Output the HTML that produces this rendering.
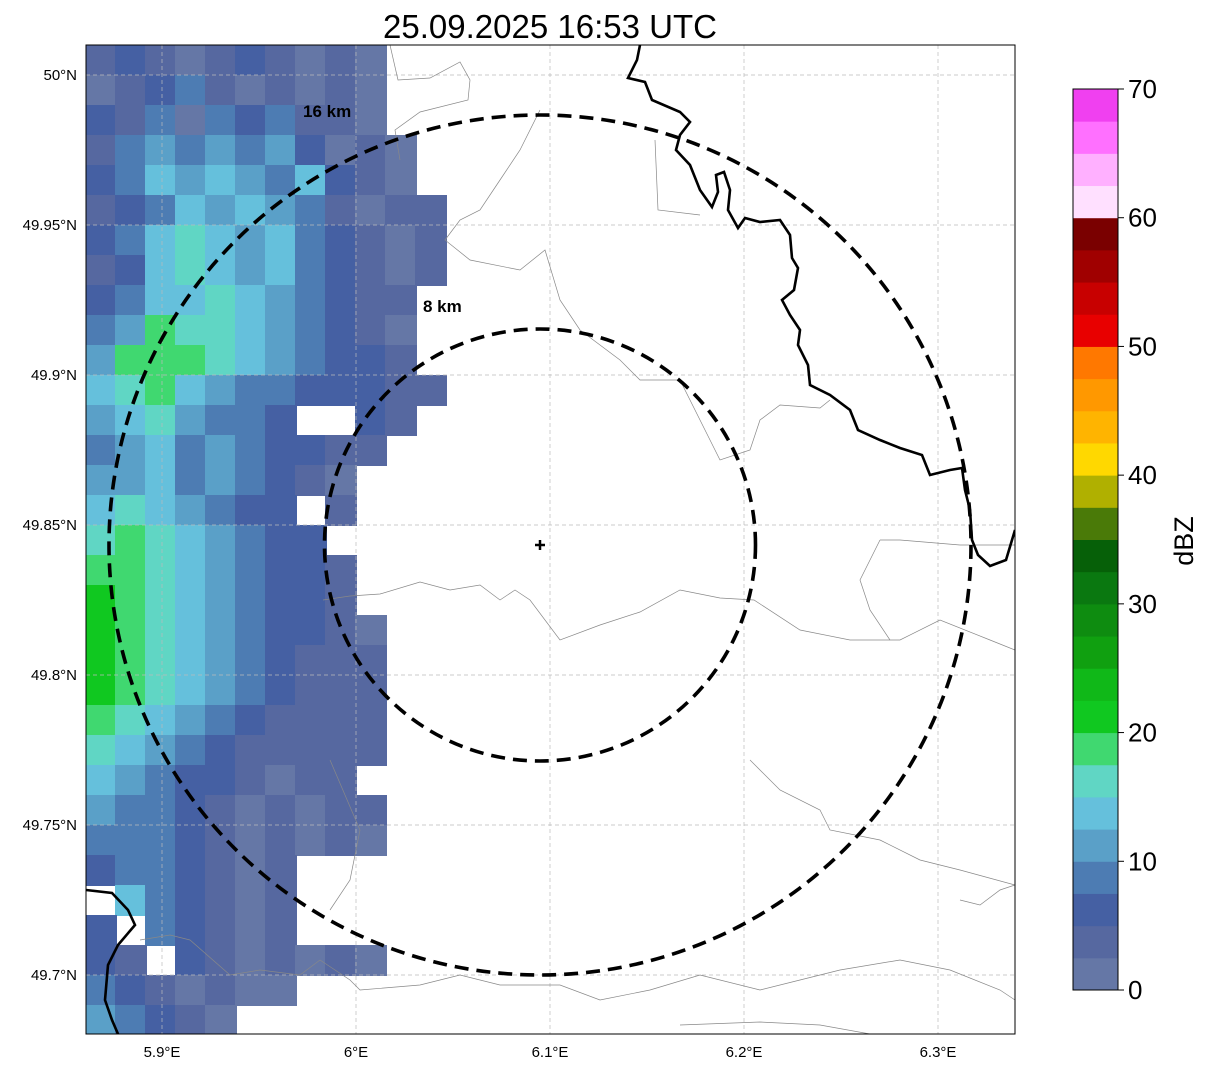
<!DOCTYPE html>
<html><head><meta charset="utf-8"><style>
body{margin:0;background:#fff;width:1207px;height:1069px;overflow:hidden;font-family:"Liberation Sans","DejaVu Sans",sans-serif}
svg{position:absolute;left:0;top:0}
</style></head><body>
<svg id="chart" width="1207" height="1069">
<defs><clipPath id="plotclip"><rect x="86" y="45" width="929" height="989"/></clipPath></defs>
<text x="550" y="38" font-size="33" text-anchor="middle" fill="#000">25.09.2025 16:53 UTC</text>
<g id="plot" clip-path="url(#plotclip)">
<g id="cells"></g>
<g id="grid"></g>
<g fill="none" stroke="#888" stroke-width="0.7">
<polyline points="390,45 398,80 430,78 460,62 470,80 468,100 420,112 395,130 400,160"/>
<polyline points="323,600 350,596 380,594 420,582 450,590 480,585 500,600 515,590 530,600 560,640 600,625 640,612 680,590 720,598 754,600 800,630 850,640 900,640 940,620 990,640 1015,650"/>
<polyline points="540,110 520,150 500,180 480,210 460,220 445,240 470,260 520,270 545,250 560,300 580,330 620,360 640,380 680,380 700,420 720,460 750,450 760,420 780,405 820,408 830,400"/>
<polyline points="655,140 658,210 700,215"/>
<polyline points="880,540 900,540 960,545 1015,545"/>
<polyline points="880,540 860,580 870,610 890,640"/>
<polyline points="750,760 780,790 820,810 830,830 880,840 920,860 960,870 1015,885"/>
<polyline points="960,900 980,905 1000,890 1015,885"/>
<polyline points="140,940 170,935 190,940 230,975 260,970 300,975 320,960 350,980 360,990 420,985 460,975 500,985 560,985 600,1000 650,990 700,975 760,990 800,980 840,970 900,960 950,970 1000,990 1015,1000"/>
<polyline points="330,760 360,830 350,880 330,910"/>
<polyline points="680,1025 760,1022 820,1025 870,1034"/>
</g>
<g fill="none" stroke="#000" stroke-width="2.6">
<polyline points="640,45 637,60 628,78 645,82 652,100 680,112 690,122 680,135 676,150 690,165 700,190 712,207 718,192 716,175 724,172 730,190 728,210 738,228 745,218 760,222 780,220 790,235 792,258 798,268 794,290 782,300 790,315 800,330 798,345 808,365 810,385 830,395 850,410 858,430 880,440 900,448 922,455 930,475 950,470 962,468 965,490 970,510 972,540 978,555 990,566 1006,560 1012,540 1015,530"/>
<polyline points="86,890 112,893 128,910 135,925 118,945 108,965 105,1000 112,1020 118,1034"/>
</g>
<g fill="none" stroke="#000" stroke-width="3.6" stroke-dasharray="14,8">
<ellipse cx="540" cy="545" rx="431" ry="430"/>
<ellipse cx="540" cy="545" rx="215.5" ry="216"/>
</g>
<text x="303" y="117" font-size="17" font-weight="bold">16 km</text>
<text x="423" y="312" font-size="17" font-weight="bold">8 km</text>
<g stroke="#000" stroke-width="2.5">
<line x1="535" y1="545" x2="545" y2="545"/><line x1="540" y1="540" x2="540" y2="550"/></g>
</g>
<rect x="86" y="45" width="929" height="989" fill="none" stroke="#000" stroke-width="1"/>
<g id="axes" font-size="15" fill="#000"></g>
<g id="cbar"></g>
<text transform="translate(1193,541) rotate(-90)" font-size="27" text-anchor="middle">dBZ</text>
</svg>
<script>
const lonTicks=[5.9,6.0,6.1,6.2,6.3];
const lonLabels=["5.9°E","6°E","6.1°E","6.2°E","6.3°E"];
const latTicks=[50.0,49.95,49.9,49.85,49.8,49.75,49.7];
const latLabels=["50°N","49.95°N","49.9°N","49.85°N","49.8°N","49.75°N","49.7°N"];
const cbarColors=["#6577a6","#5668a0","#4560a3","#4d7cb3","#5aa0c8","#65c0dc","#60d6c4","#40d870","#10c820","#10b818","#10a010","#0e8c10","#0a7810","#066008","#4a7a08","#b0b000","#ffd800","#ffb400","#ff9800","#ff7800","#e80000","#c80000","#a00000","#7a0000","#ffe0ff","#ffb0ff","#ff70ff","#f040f0"];
const cbarTicks=[0,10,20,30,40,50,60,70];
// radar echo grid: each char = dBZ band index (2.5 dBZ steps), '.' = no echo
const echoRows=[
"1210121010..",
"0123101010..",
"2130323110..",
"13434342010.",
"23545435210.",
"123545431011",
"235654532101",
"125654532101",
"23556543211.",
"34766543210.",
"47776543221.",
"567543322211",
"4564332..21.",
"3453432211..",
"445343210...",
"5654322.1...",
"67654322....",
"776543221...",
"876543221...",
"8765432210..",
"8765432111..",
"8765432111..",
"7654321111..",
"6543211111..",
"543221011...",
"4332101011..",
"3332101010..",
"2332101.....",
".532101.....",
"2.32101.....",
"21.2101010..",
"3210100.....",
"43210......."];
const NS="http://www.w3.org/2000/svg";
const lonX=v=>356+(v-6.0)*1940;
const latY=v=>75+(50.0-v)*3000;
const cellX=c=>86+c*30, cellY=r=>45+r*30;
const cbY=v=>990-(v/70)*901;
const mk=(t,a)=>{const e=document.createElementNS(NS,t);for(const k in a)e.setAttribute(k,a[k]);return e;};
const cells=document.getElementById('cells');
echoRows.forEach((row,r)=>{[...row].forEach((ch,c)=>{if(ch==='.')return;
 const e=mk('rect',{x:cellX(c)-1,y:cellY(r),width:32,height:31,fill:cbarColors[+ch]});
 
 
 cells.appendChild(e);});});
const grid=document.getElementById('grid'),axes=document.getElementById('axes');
lonTicks.forEach((v,i)=>{const x=lonX(v);
 const l=mk('line',{x1:x,y1:45,x2:x,y2:1034,stroke:'#bbb','stroke-width':0.7,'stroke-dasharray':'4,3'});
 
 
 grid.appendChild(l);
 const t=mk('text',{x:x,y:1057,'text-anchor':'middle'});t.textContent=lonLabels[i];
 
 
 axes.appendChild(t);});
latTicks.forEach((v,i)=>{const y=latY(v);
 const l=mk('line',{x1:86,y1:y,x2:1015,y2:y,stroke:'#bbb','stroke-width':0.7,'stroke-dasharray':'4,3'});
 
 
 grid.appendChild(l);
 const t=mk('text',{x:77,y:y+5,'text-anchor':'end'});t.textContent=latLabels[i];
 
 
 axes.appendChild(t);});
const cb=document.getElementById('cbar');
cbarColors.forEach((c,i)=>{const y0=cbY(i*2.5),y1=cbY((i+1)*2.5);
 const r=mk('rect',{x:1073,y:y1,width:45,height:y0-y1+0.5,fill:c});
 
 
 cb.appendChild(r);});
const fr=mk('rect',{x:1073,y:89,width:45,height:901,fill:'none',stroke:'#000','stroke-width':1});


cb.appendChild(fr);
cbarTicks.forEach(v=>{const y=cbY(v);
 const l=mk('line',{x1:1118,y1:y,x2:1124,y2:y,stroke:'#000'});
 
 
 cb.appendChild(l);
 const t=mk('text',{x:1128,y:y+9,'font-size':26});t.textContent=v;
 
 
 cb.appendChild(t);});
</script>
</body></html>
